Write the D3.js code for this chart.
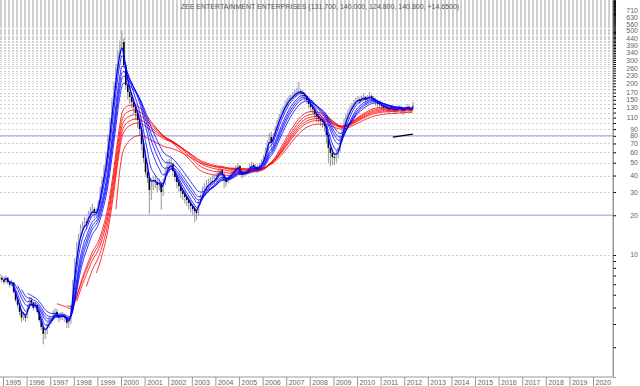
<!DOCTYPE html>
<html>
<head>
<meta charset="utf-8">
<script src="https://cdn.jsdelivr.net/npm/d3@7"></script>
<style>
  body { margin: 0; background: #fff; }
  svg { display: block; }
</style>
</head>
<body>
<svg id="chart" width="640" height="386"></svg>
<script>
// monthly bars, first one is Nov 1994
const firstYear = 1994, firstMonth = 10

const closes = [
  6.72, 6.49,
  6.26, 6.72, 6.26, 5.94, 6.15, 5.26, 4.57, 4.19, 3.71, 3.35, 3.46, 3.35,
  3.98, 4.57, 4.34, 3.98, 4.19, 3.71, 3.22, 2.85, 2.53, 2.57, 2.90, 3.17,
  3.28, 3.52, 3.71, 3.52, 3.35, 3.46, 3.46, 3.35, 3.06, 3.11, 3.85, 5.94,
  8.87, 11.47, 13.71, 15.76, 16.61, 17.81, 17.5, 20.44, 21.54, 22.3, 20.8, 20.8,
  24.8, 31.1, 37.0, 45.6, 55.3, 77.0, 101.8, 144.3, 190.8, 261, 333, 390,
  411, 275, 194, 172, 157.5, 144.3, 132.2, 119.1, 105.4, 90.1, 69.4, 54.3,
  42.5, 38.3, 31.1, 33.3, 37.0, 35.7, 33.9, 35.1, 30.0, 35.7, 42.5, 47.3,
  48.9, 48.9, 43.3, 39.0, 35.7, 33.3, 30.5, 29.0, 27.5, 26.1, 24.8, 23.5,
  22.3, 21.5, 20.8, 24.8, 27.5, 30.5, 32.7, 33.9, 35.1, 35.7, 37.0, 37.0,
  39.7, 42.5, 44.0, 40.4, 38.3, 35.7, 38.3, 40.4, 42.5, 44.0, 45.6, 47.3,
  42.5, 40.4, 41.8, 42.5, 44.0, 47.3, 48.1, 46.4, 45.6, 45.6, 47.3, 49.8,
  54.3, 62.5, 70.6, 78.3, 71.8, 81.1, 91.7, 101.8, 113.0, 121.2, 130.0, 139.3,
  146.8, 154.8, 157.5, 163.1, 168.9, 171.9, 174.9, 171.9, 166.0, 160.3, 149.4, 139.3,
  132.2, 127.7, 117.0, 111.1, 107.2, 103.6, 101.8, 94.9, 81.1, 64.7, 59.3, 55.3,
  54.3, 58.3, 62.5, 74.4, 88.5, 101.8, 113.0, 121.2, 130.0, 136.9, 144.3, 149.4,
  152, 148, 155, 158, 150, 156, 160, 154, 150, 145, 140, 138,
  135, 130, 133, 128, 126, 130, 127, 124, 128, 131, 127, 124,
  128, 133, 127, 126.2, 140.8
]
const highs = [
  7.2, 7.0,
  6.9, 7.0, 6.8, 6.4, 6.5, 6.2, 5.4, 4.7, 4.3, 3.8, 3.7, 3.6,
  4.2, 4.8, 4.8, 4.4, 4.4, 4.2, 3.8, 3.3, 2.9, 2.8, 3.1, 3.4,
  3.4, 3.8, 3.95, 3.9, 3.6, 3.7, 3.7, 3.6, 3.4, 3.3, 4.2, 6.5,
  9.5, 12.5, 14.5, 17.0, 18.0, 19.5, 19.0, 21.5, 23.0, 24.5, 23.0, 22.5,
  26, 33, 39, 48, 60, 82, 110, 155, 205, 280, 355, 420,
  500, 440, 290, 215, 185, 170, 155, 140, 125, 110, 95, 75,
  62, 50, 42, 38, 40, 40, 38, 38, 36, 38, 45, 52,
  54, 55, 50, 45, 40, 37, 35, 32, 31, 29, 28, 26,
  24.5, 23.5, 22.5, 26, 29, 33, 35, 37, 38, 39, 40, 41,
  42, 45, 47, 45, 42, 39, 40, 42, 44, 46, 48, 50,
  48, 44, 44, 45, 46, 49, 51, 50, 49, 48, 50, 53,
  57, 65, 74, 84, 86, 84, 95, 106, 117, 127, 135, 146,
  155, 162, 165, 172, 180, 185, 205, 182, 178, 172, 162, 152,
  142, 136, 130, 120, 115, 110, 108, 104, 96, 84, 68, 62,
  60, 62, 66, 80, 95, 108, 118, 127, 136, 142, 150, 156,
  160, 158, 162, 168, 160, 163, 172, 165, 160, 155, 150, 146,
  142, 137, 138, 136, 133, 136, 134, 131, 134, 137, 135, 131,
  133, 139, 136, 131, 145
]
const lows = [
  6.4, 6.2,
  6.0, 6.1, 6.0, 5.7, 5.8, 5.1, 4.4, 4.0, 3.5, 3.1, 3.2, 3.1,
  3.3, 3.9, 4.1, 3.8, 3.9, 3.6, 3.1, 2.7, 2.1, 2.3, 2.5, 2.8,
  3.0, 3.2, 3.4, 3.3, 3.1, 3.2, 3.2, 3.1, 2.8, 2.8, 3.0, 3.7,
  5.8, 8.5, 11.0, 13.5, 14.8, 16.0, 15.5, 17.0, 19.0, 20.0, 19.0, 19.5,
  20, 24, 30, 36, 44, 54, 75, 98, 140, 185, 250, 320,
  360, 260, 180, 150, 140, 130, 118, 105, 92, 80, 62, 50,
  40, 35, 20.5, 26, 31, 32, 30, 31, 22, 28, 34, 40,
  42, 44, 40, 36, 32, 30, 27, 26, 24.5, 23.5, 22, 21,
  20, 17.8, 18.5, 20, 24, 27, 29.5, 31, 32, 33, 34, 34,
  36, 38, 40, 38, 32, 33, 35, 37, 39, 41, 42, 44,
  40, 38, 39, 40, 42, 43, 45, 44, 43, 42, 44, 46,
  48, 53, 61, 69, 62, 68, 80, 90, 100, 110, 118, 128,
  135, 145, 147, 152, 158, 160, 162, 160, 155, 148, 140, 130,
  120, 118, 108, 102, 100, 95, 92, 86, 70, 50, 47, 48,
  48, 50, 54, 60, 72, 85, 98, 108, 118, 126, 132, 140,
  143, 140, 145, 148, 138, 145, 150, 145, 140, 135, 130, 128,
  126, 123, 126, 120, 118, 122, 120, 116, 120, 124, 119, 115,
  120, 125, 121, 119, 124.8
]

// guppy averages, periods in bars
const shortPeriods = [3, 5, 8, 10, 12, 15]
const longPeriods = [30, 35, 40, 45, 50, 60]

const levels = [80, 20]
const trendDates = [new Date(2011, 6, 10), new Date(2012, 4, 15)]
const trendValues = [78.3, 82.5]

const yLabels = [710, 630, 560, 500, 440, 390, 340, 300, 260, 230, 200, 170, 150, 130, 110, 90, 80, 70, 60, 50, 40, 30, 20, 10]
const yearLabels = [1995, 1996, 1997, 1998, 1999, 2000, 2001, 2002, 2003, 2004, 2005, 2006, 2007, 2008, 2009, 2010, 2011, 2012, 2013, 2014, 2015, 2016, 2017, 2018, 2019, 2020]

const title = "ZEE ENTERTAINMENT ENTERPRISES (131.700, 140.000, 124.800, 140.800, +14.6500)"

const svg = d3.select("#chart")
const plotW = 613, plotH = 377
const font = "'Liberation Sans', Arial, sans-serif"

const x = d3.scaleTime()
    .domain([new Date(1995, 0, 1), new Date(2020, 0, 1)])
    .range([3, 593])
const y = d3.scaleLog()
    .domain([1.19, 855.5])
    .range([plotH, 0])

const dates = closes.map((c, i) => new Date(firstYear, firstMonth + i, 15))
const bars = closes.map((c, i) => ({
    date: dates[i],
    open: i > 0 ? closes[i - 1] : c,
    close: c,
    high: highs[i],
    low: lows[i]
}))

// ema seeded with the sma of the first n bars
function ema(values, n) {
    const a = 2 / (n + 1)
    let e = d3.mean(values.slice(0, n))
    const out = [[dates[n - 1], e]]
    for (let i = n; i < values.length; i++) {
        e = e + a * (values[i] - e)
        out.push([dates[i], e])
    }
    return out
}

// grid, every 10
const gridVals = d3.range(10, 860, 10)
svg.append("g")
    .selectAll("line")
    .data(gridVals)
    .join("line")
    .attr("x1", 0)
    .attr("x2", plotW)
    .attr("y1", d => Math.round(y(d)) + 0.5)
    .attr("y2", d => Math.round(y(d)) + 0.5)
    .attr("stroke", "#cfcfcf")
    .attr("stroke-width", 1)
    .attr("stroke-dasharray", "2,2")

svg.append("g")
    .selectAll("line")
    .data(levels)
    .join("line")
    .attr("x1", 0)
    .attr("x2", plotW)
    .attr("y1", d => y(d))
    .attr("y2", d => y(d))
    .attr("stroke", "#b9b9f2")
    .attr("stroke-width", 1.6)

// bars
const barG = svg.append("g")
barG.selectAll("line")
    .data(bars)
    .join("line")
    .attr("x1", d => x(d.date))
    .attr("x2", d => x(d.date))
    .attr("y1", d => y(d.high))
    .attr("y2", d => y(d.low))
    .attr("stroke", "#8a8a8a")
    .attr("stroke-width", 0.9)
barG.selectAll("rect")
    .data(bars)
    .join("rect")
    .attr("x", d => x(d.date) - 0.8)
    .attr("width", 1.6)
    .attr("y", d => y(Math.max(d.open, d.close)))
    .attr("height", d => Math.max(0.8, Math.abs(y(d.open) - y(d.close))))
    .attr("fill", d => d.close < d.open ? "#000" : "#b5b5b5")

const line = d3.line()
    .x(d => x(d[0]))
    .y(d => y(d[1]))
    .curve(d3.curveMonotoneX)

longPeriods.forEach(n => {
    svg.append("path")
        .datum(ema(closes, n))
        .attr("d", line)
        .attr("fill", "none")
        .attr("stroke", "#ff0000")
        .attr("stroke-width", 0.8)
})
shortPeriods.forEach(n => {
    svg.append("path")
        .datum(ema(closes, n))
        .attr("d", line)
        .attr("fill", "none")
        .attr("stroke", "#0000ff")
        .attr("stroke-width", n <= 3 ? 1.3 : 0.8)
})

svg.append("path")
    .datum(trendDates.map((d, i) => [d, trendValues[i]]))
    .attr("d", d3.line().x(d => x(d[0])).y(d => y(d[1])))
    .attr("stroke", "#000")
    .attr("stroke-width", 1.2)
    .attr("fill", "none")

// right axis
const yTicks = [2, 3, 4, 5, 6, 7, 8, 9].concat(gridVals)
const yAxis = svg.append("g")
    .attr("transform", `translate(${plotW},0)`)
    .call(d3.axisRight(y).tickValues(yTicks).tickSize(3).tickFormat(""))
yAxis.select(".domain").attr("stroke", "#999")
yAxis.selectAll(".tick line").attr("stroke", "#000")

svg.append("g")
    .selectAll("text")
    .data(yLabels)
    .join("text")
    .attr("x", 638)
    .attr("y", d => y(d) + 2.5)
    .attr("text-anchor", "end")
    .attr("font-family", font)
    .attr("font-size", 7)
    .attr("fill", "#666")
    .text(d => d)

// bottom axis
const xAxis = svg.append("g")
    .attr("transform", `translate(0,${plotH})`)
    .call(d3.axisBottom(x)
        .tickValues(yearLabels.map(yr => new Date(yr, 0, 1)))
        .tickSize(9)
        .tickFormat(d3.timeFormat("%Y")))
xAxis.select(".domain").attr("d", `M0,0H${plotW}V${-plotH}`).attr("stroke", "#999")
xAxis.selectAll(".tick line").attr("stroke", "#999")
xAxis.selectAll(".tick text")
    .attr("text-anchor", "start")
    .attr("x", 2)
    .attr("y", 3)
    .attr("dy", "0.71em")
    .attr("font-family", font)
    .attr("font-size", 7)
    .attr("fill", "#666")

svg.append("text")
    .attr("x", 320)
    .attr("y", 9)
    .attr("text-anchor", "middle")
    .attr("font-family", font)
    .attr("font-size", 7)
    .attr("fill", "#555")
    .text(title)
</script>
</body>
</html>
